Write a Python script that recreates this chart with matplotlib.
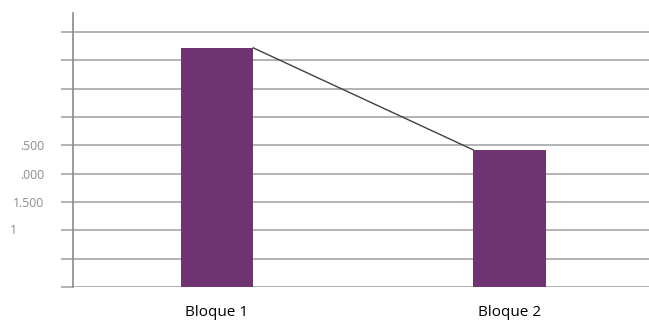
import matplotlib.pyplot as plt
from matplotlib.transforms import blended_transform_factory

# data (values in units, grid step 500)
categories = ['Bloque 1', 'Bloque 2']
values = [4220, 2420]
grid_ticks = [0, 500, 1000, 1500, 2000, 2500, 3000, 3500, 4000, 4500]
# the reference shows clipped labels
tick_labels = ['', '', '', '1.500', '.000', '.500', '', '', '', '']

bar_color = '#6f3372'
grid_color = '#a6a6a6'
label_color = '#8c8c8c'
font = 'Open Sans'

fig = plt.figure(figsize=(6.49, 3.2), dpi=100)
ax = fig.add_axes([0.1125, 0.1031, 0.8875, 0.8563])

x = list(range(len(categories)))
width = 0.248
ax.bar(x, values, width=width, color=bar_color, zorder=3)

# line from the right top corner of bar 1 to the left top corner of bar 2
ax.plot([x[0] + width / 2, x[1] - width / 2], values, color='#404040', lw=1.0, zorder=4)

ax.set_xlim(-0.492, 1.477)
ax.set_ylim(0, 4835)

ax.set_yticks(grid_ticks)
ax.set_yticklabels(tick_labels, fontsize=8.8, color=label_color, family=font)
ax.tick_params(axis='y', length=9, width=1.2, color=grid_color, pad=11.5)
ax.grid(axis='y', color=grid_color, lw=1.2, zorder=0)

trans = blended_transform_factory(ax.transAxes, ax.transData)
ax.text(-0.109, 1000, '1', transform=trans, ha='left', va='center',
        fontsize=8.8, color=label_color, family=font)

ax.set_xticks(x)
ax.set_xticklabels(categories, fontsize=11, family=font)
ax.tick_params(axis='x', length=0, pad=13)

for side in ['top', 'right', 'bottom']:
    ax.spines[side].set_visible(False)
ax.spines['left'].set_color('#8a8a8a')
ax.spines['left'].set_linewidth(1.2)

fig.savefig('out.png', dpi=100)
